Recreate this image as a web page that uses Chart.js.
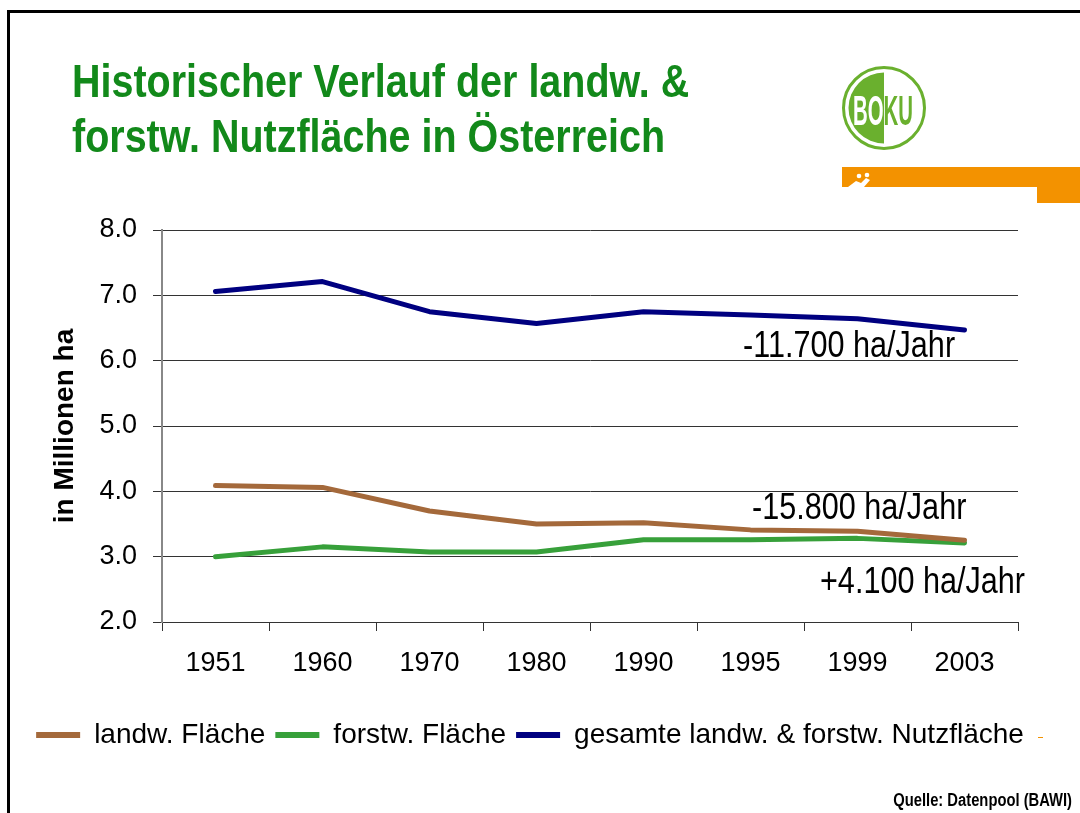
<!DOCTYPE html>
<html>
<head>
<meta charset="utf-8">
<script src="https://cdn.jsdelivr.net/npm/chart.js@4"></script>
<style>
  html, body { margin: 0; padding: 0; background: #fff; }
  #slide { position: relative; width: 1080px; height: 813px; overflow: hidden; }
  #frame { position: absolute; left: 7px; top: 10px; width: 1100px; height: 840px;
           border-top: 3px solid #000; border-left: 3px solid #000; }
  #chartWrap { position: absolute; left: 0; top: 0; width: 1080px; height: 813px; }
  #deco { position: absolute; left: 0; top: 0; }
  /* no narrow face installed, so squeeze the regular one */
  .narrow { font-family: "Liberation Sans Narrow", "Arial Narrow", "Liberation Sans", sans-serif;
            transform-origin: left top; }
  #title { position: absolute; left: 72px; top: 53px; color: #12891a; font-size: 47px;
           font-weight: bold; line-height: 55px; white-space: nowrap; transform: scaleX(0.84); }
  .note { position: absolute; font-size: 36px; line-height: 36px; color: #000; white-space: nowrap;
          transform: scaleX(0.85); }
  #source { position: absolute; right: 8px; top: 791px; font-size: 18px; line-height: 18px;
            font-weight: bold; color: #000; white-space: nowrap; transform: scaleX(0.82);
            transform-origin: right top; }
  #dash { position: absolute; left: 1038px; top: 737px; width: 5px; height: 1px; background: #f39200; }
</style>
</head>
<body>
<div id="slide">
  <div id="chartWrap"><canvas id="chart" width="1080" height="813"></canvas></div>
  <div id="frame"></div>
  <svg id="deco" width="1080" height="813">
    <defs>
      <clipPath id="leftHalf"><rect x="830" y="55" width="54" height="110"/></clipPath>
      <clipPath id="rightHalf"><rect x="884" y="55" width="60" height="110"/></clipPath>
    </defs>
    <circle cx="884" cy="108" r="40.5" fill="none" stroke="#6ab02e" stroke-width="3"/>
    <circle cx="884" cy="108" r="35.5" fill="#6ab02e" clip-path="url(#leftHalf)"/>
    <g font-family="Liberation Sans, sans-serif" font-weight="bold" font-size="43">
      <text x="853" y="125" textLength="60" lengthAdjust="spacingAndGlyphs" fill="#fff" clip-path="url(#leftHalf)">BOKU</text>
      <text x="853" y="125" textLength="60" lengthAdjust="spacingAndGlyphs" fill="#6ab02e" clip-path="url(#rightHalf)">BOKU</text>
    </g>
    <rect x="842" y="167" width="238" height="20" fill="#f39200"/>
    <rect x="1037" y="187" width="43" height="16" fill="#f39200"/>
    <circle cx="859" cy="176" r="2.3" fill="#fff"/>
    <circle cx="867" cy="175" r="2.3" fill="#fff"/>
    <path d="M848 187 L856 181 L861 183 L866 178 L870 180 L864 187 Z" fill="#fff"/>
  </svg>
  <div id="title" class="narrow">Historischer Verlauf der landw. &amp;<br>forstw. Nutzfläche in Österreich</div>
  <div class="note narrow" style="left:743px; top:327px;">-11.700 ha/Jahr</div>
  <div class="note narrow" style="left:752px; top:489px;">-15.800 ha/Jahr</div>
  <div class="note narrow" style="left:820px; top:563px;">+4.100 ha/Jahr</div>
  <div id="dash"></div>
  <div id="source" class="narrow">Quelle: Datenpool (BAWI)</div>
</div>

<script>
  // Data (million ha)
  const years = ["1951", "1960", "1970", "1980", "1990", "1995", "1999", "2003"];
  const landw = [4.09, 4.06, 3.70, 3.50, 3.52, 3.41, 3.39, 3.25];
  const forstw = [3.00, 3.15, 3.07, 3.07, 3.26, 3.26, 3.28, 3.21];
  const gesamt = [7.06, 7.21, 6.75, 6.57, 6.75, 6.70, 6.64, 6.47];
  const yTicks = [2, 3, 4, 5, 6, 7, 8];

  Chart.defaults.font.family = "'Liberation Sans', Arial, sans-serif";
  Chart.defaults.color = "#000";

  const ctx = document.getElementById("chart");

  function line(label, data, color) {
    return {
      label: label,
      data: data,
      borderColor: color,
      backgroundColor: color,
      borderWidth: 5,
      pointRadius: 0,
      pointHoverRadius: 0,
      tension: 0,
      borderJoinStyle: "round",
      borderCapStyle: "round",
    };
  }

  new Chart(ctx, {
    type: "line",
    data: {
      labels: years,
      datasets: [
        line("landw. Fläche", landw, "#a4693b"),
        line("forstw. Fläche", forstw, "#37a03a"),
        line("gesamte landw. & forstw. Nutzfläche", gesamt, "#000080"),
      ],
    },
    options: {
      responsive: false,
      animation: false,
      layout: { padding: { top: 230, right: 20, bottom: 54, left: 0 } },
      plugins: {
        legend: {
          position: "bottom",
          labels: {
            font: { size: 28 },
            boxWidth: 44,
            boxHeight: 6,
            padding: 10,
            generateLabels: (chart) =>
              Chart.defaults.plugins.legend.labels
                .generateLabels(chart)
                .map((l) => ({ ...l, lineWidth: 0 })),
          },
        },
        tooltip: { enabled: false },
      },
      scales: {
        x: {
          offset: true,
          grid: {
            offset: true,
            drawOnChartArea: false,
            drawTicks: true,
            tickLength: 9,
            color: "#333",
          },
          border: { color: "#333", width: 1 },
          ticks: { font: { size: 27 }, padding: 16, maxRotation: 0 },
          afterFit: (s) => { s.height = 89; },
        },
        y: {
          min: 2,
          max: 8,
          afterBuildTicks: (s) => { s.ticks = yTicks.map((v) => ({ value: v })); },
          grid: { color: "#333", lineWidth: 1, tickLength: 9 },
          border: { color: "#888", width: 2 },
          ticks: {
            font: { size: 27 },
            padding: 16,
            callback: (v) => v.toFixed(1),
          },
          title: {
            display: true,
            text: "in Millionen ha",
            font: { size: 28, weight: "bold" },
            padding: { top: 48, bottom: 0 },
          },
          afterFit: (s) => { s.width = 162; },
        },
        // empty right-hand scale, only reserves the margin right of the plot
        yRight: {
          position: "right",
          display: true,
          grid: { display: false },
          border: { display: false },
          ticks: { display: false },
          afterFit: (s) => { s.width = 42; },
        },
      },
    },
  });
</script>
</body>
</html>
